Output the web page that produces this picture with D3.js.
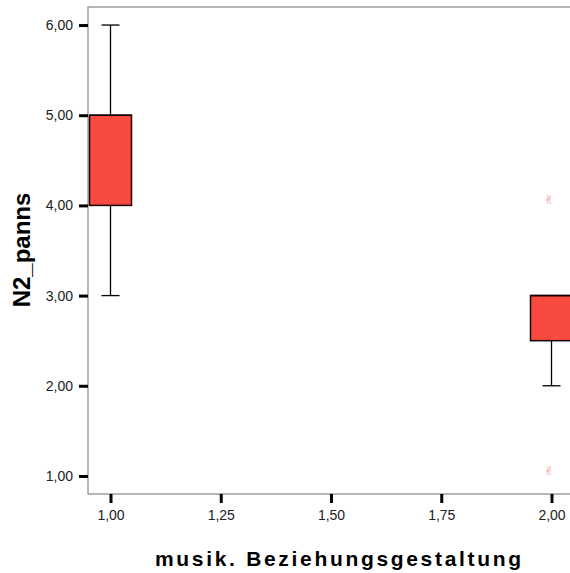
<!DOCTYPE html>
<html lang="de">
<head>
    <meta charset="UTF-8">
    <title>N2_panns nach musik. Beziehungsgestaltung</title>
    <script src="https://d3js.org/d3.v7.min.js"></script>
    <style>
        body { margin: 0; background: #fff; font-family: "Liberation Sans", Arial, sans-serif; }
        svg { display: block; }
    </style>
</head>
<body>
    <div id="chart"></div>
    <script>
        // group positions on the x axis and their box statistics
        const groups = [1, 2];
        const q1 = [4, 2.5];
        const q3 = [5, 3];
        const median = [5, 3];
        const whiskerLow = [3, 2];
        const whiskerHigh = [6, 3];
        const outliers = [[], [4, 1]];

        const xTicks = [1, 1.25, 1.5, 1.75, 2];
        const yTicks = [1, 2, 3, 4, 5, 6];

        const W = 570, H = 573;
        const fmt = d => d3.format(".2f")(d).replace(".", ",");

        const svg = d3.select("#chart").append("svg")
            .attr("width", W).attr("height", H);

        const x = d3.scaleLinear().domain([1, 2]).range([110.5, 551.5]);
        const y = d3.scaleLinear().domain([0.8, 6.2]).range([494, 7]);

        // plot frame
        svg.append("rect")
            .attr("x", 88).attr("y", 7)
            .attr("width", 520).attr("height", 487)
            .attr("fill", "none").attr("stroke", "#888").attr("stroke-width", 1.2);

        // y axis
        const yAxis = svg.append("g")
            .attr("transform", "translate(88,0)")
            .call(d3.axisLeft(y).tickValues(yTicks).tickFormat(fmt).tickSize(9).tickPadding(6));
        yAxis.attr("font-size", 14).attr("font-family", "Liberation Sans, Arial, sans-serif");
        yAxis.select(".domain").remove();
        yAxis.selectAll(".tick line").attr("stroke", "#000").attr("stroke-width", 3);
        yAxis.selectAll(".tick text").attr("fill", "#222");

        // x axis
        const xAxis = svg.append("g")
            .attr("transform", "translate(0,494)")
            .call(d3.axisBottom(x).tickValues(xTicks).tickFormat(fmt).tickSize(9).tickPadding(7));
        xAxis.attr("font-size", 14).attr("font-family", "Liberation Sans, Arial, sans-serif");
        xAxis.select(".domain").remove();
        xAxis.selectAll(".tick line").attr("stroke", "#000").attr("stroke-width", 3);
        xAxis.selectAll(".tick text").attr("fill", "#222");

        const boxHalf = 21, capHalf = 9;

        groups.forEach((g, i) => {
            const cx = x(g);
            // whiskers
            svg.append("line")
                .attr("x1", cx).attr("x2", cx)
                .attr("y1", y(whiskerLow[i])).attr("y2", y(q1[i]))
                .attr("stroke", "#000").attr("stroke-width", 1.3);
            svg.append("line")
                .attr("x1", cx).attr("x2", cx)
                .attr("y1", y(whiskerHigh[i])).attr("y2", y(q3[i]))
                .attr("stroke", "#000").attr("stroke-width", 1.3);
            [whiskerLow[i], whiskerHigh[i]].forEach(v => {
                if (v === q1[i] || v === q3[i]) return;
                svg.append("line")
                    .attr("x1", cx - capHalf).attr("x2", cx + capHalf)
                    .attr("y1", y(v)).attr("y2", y(v))
                    .attr("stroke", "#000").attr("stroke-width", 1.3);
            });
            // box
            svg.append("rect")
                .attr("x", cx - boxHalf).attr("y", y(q3[i]))
                .attr("width", boxHalf * 2).attr("height", y(q1[i]) - y(q3[i]))
                .attr("fill", "#f84a3f").attr("stroke", "#1a0000").attr("stroke-width", 1.5);
            svg.append("line")
                .attr("x1", cx - boxHalf).attr("x2", cx + boxHalf)
                .attr("y1", y(median[i])).attr("y2", y(median[i]))
                .attr("stroke", "#1a0000").attr("stroke-width", 1.5);
            // outliers
            outliers[i].forEach(v => {
                svg.append("text")
                    .attr("x", cx - 2.5).attr("y", y(v) - 1)
                    .attr("text-anchor", "middle")
                    .attr("font-family", "DejaVu Sans, sans-serif")
                    .attr("font-size", 12)
                    .attr("fill", "#f08a8a")
                    .text("\u270C");
            });
        });

        // axis titles
        svg.append("text")
            .attr("transform", "translate(30,250) rotate(-90)")
            .attr("text-anchor", "middle")
            .attr("font-size", 24).attr("font-weight", "bold")
            .text("N2_panns");

        svg.append("text")
            .attr("x", 155).attr("y", 566)
            .attr("font-size", 21).attr("font-weight", "bold")
            .attr("textLength", 366).attr("lengthAdjust", "spacing")
            .text("musik. Beziehungsgestaltung");
    </script>
</body>
</html>
